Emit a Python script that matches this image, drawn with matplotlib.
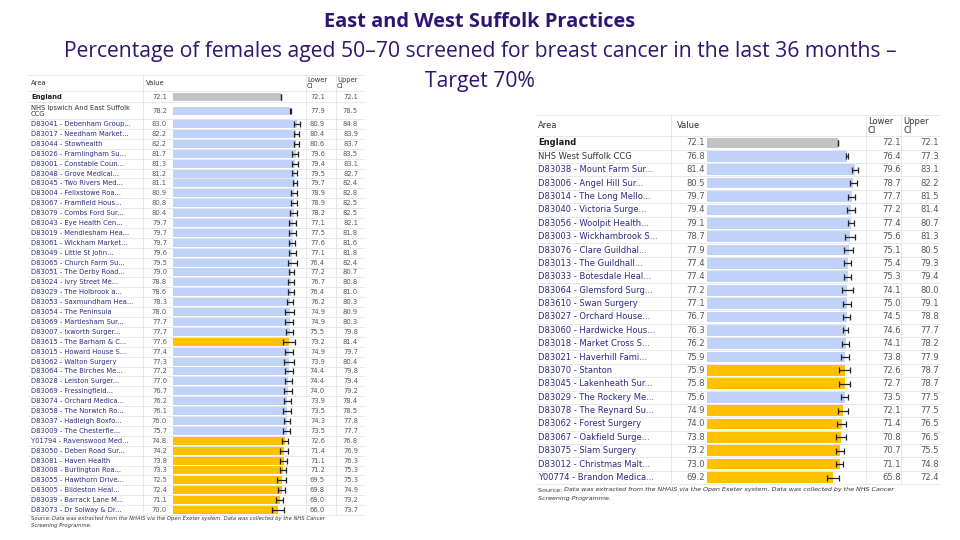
import matplotlib.pyplot as plt

W, H = 960, 540

# East Suffolk (Ipswich and East Suffolk CCG)
east_areas = [
    "England", "NHS Ipswich And East Suffolk\nCCG",
    "D83041 - Debenham Group...", "D83017 - Needham Market...", "D83044 - Stowhealth",
    "D83026 - Framlingham Su...", "D83001 - Constable Coun...", "D83048 - Grove Medical...",
    "D83045 - Two Rivers Med...", "D83004 - Felixstowe Roa...", "D83067 - Framfield Hous...",
    "D83079 - Combs Ford Sur...", "D83043 - Eye Health Cen...", "D83019 - Mendlesham Hea...",
    "D83061 - Wickham Market...", "D83049 - Little St John...", "D83065 - Church Farm Su...",
    "D83051 - The Derby Road...", "D83024 - Ivry Street Me...", "D83029 - The Holbrook a...",
    "D83053 - Saxmundham Hea...", "D83054 - The Peninsula", "D83069 - Martlesham Sur...",
    "D83007 - Ixworth Surger...", "D83615 - The Barham & C...", "D83015 - Howard House S...",
    "D83062 - Walton Surgery", "D83064 - The Birches Me...", "D83028 - Leiston Surger...",
    "D83069 - Fressingfield...", "D83074 - Orchard Medica...", "D83058 - The Norwich Ro...",
    "D83037 - Hadleigh Boxfo...", "D83009 - The Chesterfie...", "Y01794 - Ravenswood Med...",
    "D83050 - Deben Road Sur...", "D83081 - Haven Health", "D83008 - Burlington Roa...",
    "D83055 - Hawthorn Drive...", "D83005 - Bildeston Heal...", "D83039 - Barrack Lane M...",
    "D83073 - Dr Solway & Dr...",
]
east_value = [72.1, 78.2, 83.0, 82.2, 82.2, 81.7, 81.3, 81.2, 81.1, 80.9, 80.8, 80.4, 79.7, 79.7,
              79.7, 79.6, 79.5, 79.0, 78.8, 78.6, 78.3, 78.0, 77.7, 77.7, 77.6, 77.4, 77.3, 77.2,
              77.0, 76.7, 76.2, 76.1, 76.0, 75.7, 74.8, 74.2, 73.8, 73.3, 72.5, 72.4, 71.1, 70.0]
east_lower = [72.1, 77.9, 80.9, 80.4, 80.6, 79.6, 79.4, 79.5, 79.7, 78.9, 78.9, 78.2, 77.1, 77.5,
              77.6, 77.1, 76.4, 77.2, 76.7, 76.4, 76.2, 74.9, 74.9, 75.5, 73.2, 74.9, 73.9, 74.4,
              74.4, 74.0, 73.9, 73.5, 74.3, 73.5, 72.6, 71.4, 71.1, 71.2, 69.5, 69.8, 69.0, 66.0]
east_upper = [72.1, 78.5, 84.8, 83.9, 83.7, 83.5, 83.1, 82.7, 82.4, 82.8, 82.5, 82.5, 82.1, 81.8,
              81.6, 81.8, 82.4, 80.7, 80.8, 81.0, 80.3, 80.9, 80.3, 79.8, 81.4, 79.7, 80.4, 79.8,
              79.4, 79.2, 78.4, 78.5, 77.8, 77.7, 76.8, 76.9, 76.3, 75.3, 75.3, 74.9, 73.2, 73.7]
# E = England, C = CCG, S = similar / higher, L = lower than benchmark
east_flag = list("EC" + "S" * 22 + "L" + "S" * 9 + "L" * 8)

# West Suffolk CCG
west_areas = [
    "England", "NHS West Suffolk CCG",
    "D83038 - Mount Farm Sur...", "D83006 - Angel Hill Sur...", "D83014 - The Long Mello...",
    "D83040 - Victoria Surge...", "D83056 - Woolpit Health...", "D83003 - Wickhambrook S...",
    "D83076 - Clare Guildhal...", "D83013 - The Guildhall...", "D83033 - Botesdale Heal...",
    "D83064 - Glemsford Surg...", "D83610 - Swan Surgery", "D83027 - Orchard House...",
    "D83060 - Hardwicke Hous...", "D83018 - Market Cross S...", "D83021 - Haverhill Fami...",
    "D83070 - Stanton", "D83045 - Lakenheath Sur...", "D83029 - The Rockery Me...",
    "D83078 - The Reynard Su...", "D83062 - Forest Surgery", "D83067 - Oakfield Surge...",
    "D83075 - Slam Surgery", "D83012 - Christmas Malt...", "Y00774 - Brandon Medica...",
]
west_value = [72.1, 76.8, 81.4, 80.5, 79.7, 79.4, 79.1, 78.7, 77.9, 77.4, 77.4, 77.2, 77.1,
              76.7, 76.3, 76.2, 75.9, 75.9, 75.8, 75.6, 74.9, 74.0, 73.8, 73.2, 73.0, 69.2]
west_lower = [72.1, 76.4, 79.6, 78.7, 77.7, 77.2, 77.4, 75.6, 75.1, 75.4, 75.3, 74.1, 75.0,
              74.5, 74.6, 74.1, 73.8, 72.6, 72.7, 73.5, 72.1, 71.4, 70.8, 70.7, 71.1, 65.8]
west_upper = [72.1, 77.3, 83.1, 82.2, 81.5, 81.4, 80.7, 81.3, 80.5, 79.3, 79.4, 80.0, 79.1,
              78.8, 77.7, 78.2, 77.9, 78.7, 78.7, 77.5, 77.5, 76.5, 76.5, 75.5, 74.8, 72.4]
west_flag = list("EC" + "S" * 15 + "LLSLLLLLL")

BAR_COLORS = {"E": "#c3c3c3", "C": "#c0d2f7", "S": "#c0d2f7", "L": "#ffc000"}
NAME_COLORS = {"E": "#1a1a1a", "C": "#333333", "S": "#2b2b80", "L": "#2b2b80"}

plt.rcParams['font.family'] = ['DejaVu Sans']

fig = plt.figure(figsize=(9.6, 5.4), dpi=100)

# slide title
title_kw = dict(ha='center', va='center', color='#2e1670', family=['Open Sans', 'DejaVu Sans'])
fig.text(0.5, 1 - 22 / H, "East and West Suffolk Practices", fontsize=14.4, weight='bold', **title_kw)
fig.text(0.5, 1 - 52 / H,
         "Percentage of females aged 50\u201370 screened for breast cancer in the last 36 months \u2013",
         fontsize=15.2, **title_kw)
fig.text(0.5, 1 - 82 / H, "Target 70%", fontsize=15.2, **title_kw)


def draw_table(box, head_bot, row_y, row_h, cols, areas, vals, lows, ups, flags, xmax, fs, bar_h, cap):
    left, top, right, bottom = box
    rect = [left / W, 1 - bottom / H, (right - left) / W, (bottom - top) / H]
    ax = fig.add_axes(rect)
    ax.set_xlim(left, right)
    ax.set_ylim(bottom, top)
    ax.axis('off')

    # grid lines of the table
    edges = [top, head_bot] + [y + h / 2 for y, h in zip(row_y, row_h)]
    ax.hlines(edges, left, right, color='#e4e4e4', lw=0.6)
    for xd in cols['div']:
        ax.vlines(xd, top, edges[-1], color='#e4e4e4', lw=0.6)

    hy = (top + head_bot) / 2
    hk = dict(fontsize=fs, color='#333333', va='center')
    ax.text(cols['area'], hy, "Area", **hk)
    ax.text(cols['vhead'], hy, "Value", **hk)
    ax.text(cols['lhead'], hy, "Lower\nCI", linespacing=1.0, **hk)
    ax.text(cols['uhead'], hy, "Upper\nCI", linespacing=1.0, **hk)

    for name, v, lo, up, fl, y in zip(areas, vals, lows, ups, flags, row_y):
        ax.text(cols['area'], y, name, fontsize=fs, color=NAME_COLORS[fl], va='center',
                weight='bold' if fl == 'E' else 'normal', linespacing=1.05)
        for key, num in (('value', v), ('lower', lo), ('upper', up)):
            ax.text(cols[key], y, f"{num:.1f}", fontsize=fs, color='#555555', ha='right', va='center')

    # bars in their own axes, sharing the row positions
    x0, x1 = cols['bars']
    bx = fig.add_axes([x0 / W, rect[1], (x1 - x0) / W, rect[3]])
    bx.set_xlim(0, xmax)
    bx.set_ylim(bottom, top)
    bx.axis('off')
    bx.barh(row_y, vals, height=bar_h, color=[BAR_COLORS[f] for f in flags], lw=0)
    err = [[v - lo for v, lo in zip(vals, lows)], [up - v for v, up in zip(vals, ups)]]
    bx.errorbar(vals, row_y, xerr=err, fmt='none', ecolor='#222222', elinewidth=0.9,
                capsize=cap, capthick=0.9)
    return ax


def add_source(ax, x, y, fs):
    t = ax.text(x, y, "Source: ", fontsize=fs, color='#333333', va='top')
    ax.annotate("Data was extracted from the NHAIS via the Open Exeter system. Data was collected by the NHS Cancer",
                xy=(1, 1), xycoords=t, va='top', fontsize=fs, color='#333333', style='italic')
    ax.text(x, y + fs * 1.75, "Screening Programme.", fontsize=fs, color='#333333', va='top', style='italic')


# left table: East
east_y = [97, 111] + [124 + 9.9 * k for k in range(len(east_areas) - 2)]
east_h = [10, 16] + [9.9] * (len(east_areas) - 2)
east_cols = dict(area=31, vhead=146, lhead=307, uhead=337, value=167, lower=325, upper=358,
                 bars=(173, 306), div=[143, 306, 336])
axl = draw_table((28, 75, 365, 530), 91.5, east_y, east_h, east_cols, east_areas, east_value,
                 east_lower, east_upper, east_flag, 88.7, 4.85, 8, 2.0)
add_source(axl, 31, 516, 3.8)

# right table: West
west_y = [143 + 13.38 * k for k in range(len(west_areas))]
west_h = [13.38] * len(west_areas)
west_cols = dict(area=538, vhead=677, lhead=868, uhead=903, value=705, lower=901, upper=939,
                 bars=(707, 866), div=[671, 866, 901])
axr = draw_table((535, 115, 940, 510), 136.3, west_y, west_h, west_cols, west_areas, west_value,
                 west_lower, west_upper, west_flag, 87.4, 6.0, 10.7, 2.3)
add_source(axr, 538, 487.5, 4.6)

fig.savefig("out.png", dpi=100)
